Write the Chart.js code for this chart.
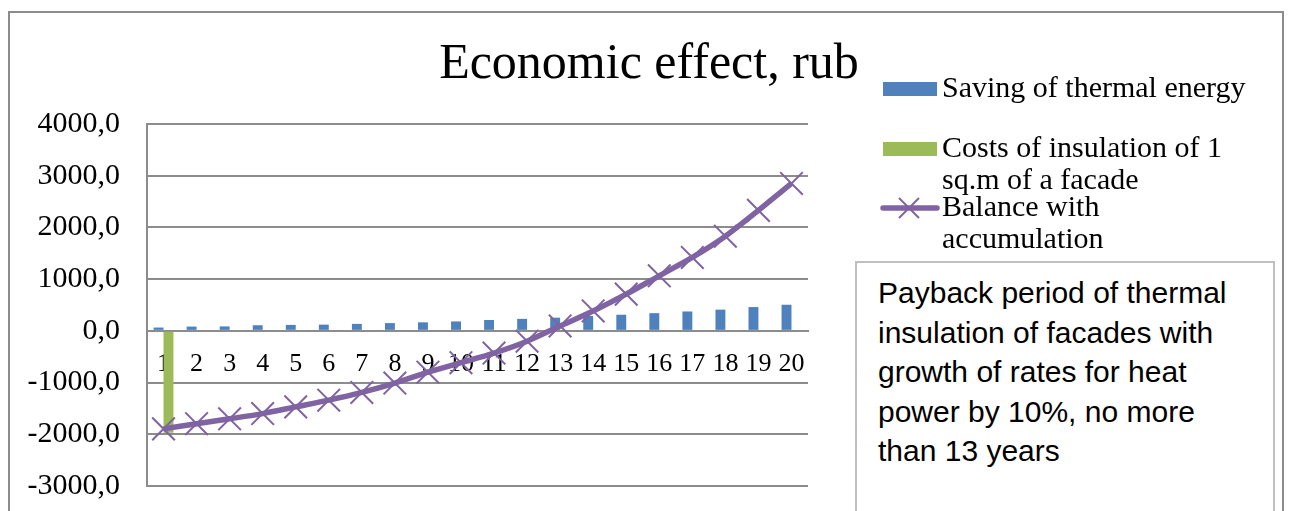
<!DOCTYPE html>
<html><head><meta charset="utf-8">
<script src="https://cdn.jsdelivr.net/npm/chart.js@4.4.1/dist/chart.umd.min.js"></script>
<style>
html,body{margin:0;padding:0;background:#fff;width:1289px;height:511px;overflow:hidden;}
#wrap{position:relative;width:1289px;height:511px;}
#frame{position:absolute;left:8px;top:11px;width:1276px;height:540px;border:2px solid #8c8c8c;box-sizing:border-box;}
#c{position:absolute;left:0;top:0;}
#title{position:absolute;left:0;width:1298px;top:36px;text-align:center;font-family:"Liberation Serif";font-size:50px;line-height:50px;color:#000;white-space:nowrap;}
.lg{position:absolute;left:880px;width:380px;font-family:"Liberation Serif";font-size:30px;line-height:32px;color:#000;}
.lg .mk{position:absolute;left:0;top:18px;}
.lg .tx{position:absolute;left:62px;top:0;width:318px;}
#note{position:absolute;left:855px;top:261px;width:420px;height:270px;border:2px solid #bfbfbf;box-sizing:border-box;background:#fff;padding:10px 32px 0 21px;font-family:"Liberation Sans";font-size:30px;line-height:39.5px;color:#000;}
</style></head>
<body><div id="wrap">
<div id="frame"></div>
<canvas id="c" width="1289" height="511"></canvas>
<div id="title">Economic effect, rub</div>
<div id="legend"></div>
<div id="note">Payback period of thermal insulation of facades with growth of rates for heat power by 10%, no more than 13 years</div>
</div>
<script>
const categories = ['1','2','3','4','5','6','7','8','9','10','11','12','13','14','15','16','17','18','19','20'];
const savingLabel = 'Saving of thermal energy';
const costLabel = 'Costs of insulation of 1 sq.m of a facade';
const balanceLabel = 'Balance with accumulation';
const savings = [64, 83, 86, 108, 115, 120, 135, 150, 165, 182, 210, 232, 255, 287, 312, 342, 375, 410, 460, 505];
const costs = [-1970, null, null, null, null, null, null, null, null, null, null, null, null, null, null, null, null, null, null, null];
const balance = [-1895, -1795, -1700, -1600, -1470, -1340, -1190, -1010, -800, -615, -430, -200, 95, 385, 710, 1065, 1420, 1830, 2330, 2850];
const yMin = -3000, yMax = 4000, yStep = 1000;

const blue = '#4F81BD', green = '#9BBB59', purple = '#7F63A2', grid = '#8c8c8c';

const chart = new Chart(document.getElementById('c'), {
  type: 'bar',
  data: {
    labels: categories,
    datasets: [
      {type:'line', label: balanceLabel, data: balance, borderColor: purple, backgroundColor: purple,
       borderWidth: 5.5, pointStyle: 'crossRot', pointRadius: 16, pointBorderWidth: 2,
       pointBorderColor: purple, tension: 0.25, order: 0},
      {type:'bar', label: savingLabel, data: savings, backgroundColor: blue, order: 1,
       categoryPercentage: 0.6, barPercentage: 1.0},
      {type:'bar', label: costLabel, data: costs, backgroundColor: green, order: 2,
       categoryPercentage: 0.6, barPercentage: 1.0}
    ]
  },
  options: {
    responsive: false, animation: false, devicePixelRatio: 1,
    layout: {padding: {left: 0, top: 124, right: 481, bottom: 25}},
    plugins: {legend: {display: false}, tooltip: {enabled: false}, title: {display: false}},
    scales: {
      x: {
        type: 'category', position: {y: 0}, offset: true,
        grid: {display: false, drawTicks: false},
        border: {display: true, color: grid, width: 2},
        ticks: {autoSkip: false, maxRotation: 0, minRotation: 0, padding: 18, color: '#000',
                font: {family: 'Liberation Serif', size: 26}},
        afterFit: s => { s.paddingLeft = 0; s.paddingRight = 0; s.paddingTop = 0; s.paddingBottom = 0; s.height = 0; }
      },
      y: {
        min: yMin, max: yMax,
        ticks: {stepSize: yStep, padding: 27, color: '#000', font: {family: 'Liberation Serif', size: 30},
                callback: v => v.toFixed(1).replace('.', ',')},
        grid: {color: grid, lineWidth: 2, drawTicks: false},
        border: {display: true, color: grid, width: 2},
        afterFit: s => { s.width = 147; s.paddingTop = 0; s.paddingBottom = 0; }
      }
    }
  }
});

// legend from datasets
const order = [1, 2, 0];
const tops = [71, 131, 190];
const lg = document.getElementById('legend');
order.forEach((di, i) => {
  const ds = chart.data.datasets[di];
  const d = document.createElement('div');
  d.className = 'lg';
  d.style.top = tops[i] + 'px';
  let mk;
  if (ds.type === 'line') {
    mk = '<svg class="mk" width="60" height="22" style="top:' + (18-11) + 'px" viewBox="0 0 60 22">' +
      '<line x1="3" y1="11" x2="57" y2="11" stroke="' + ds.borderColor + '" stroke-width="5.5" stroke-linecap="round"/>' +
      '<line x1="19" y1="1" x2="39" y2="21" stroke="' + ds.borderColor + '" stroke-width="2"/>' +
      '<line x1="39" y1="1" x2="19" y2="21" stroke="' + ds.borderColor + '" stroke-width="2"/></svg>';
  } else {
    mk = '<div class="mk" style="left:3px;top:' + (18-7) + 'px;width:54px;height:14px;background:' + ds.backgroundColor + '"></div>';
  }
  d.innerHTML = mk + '<div class="tx">' + ds.label + '</div>';
  lg.appendChild(d);
});
</script>
</body></html>
